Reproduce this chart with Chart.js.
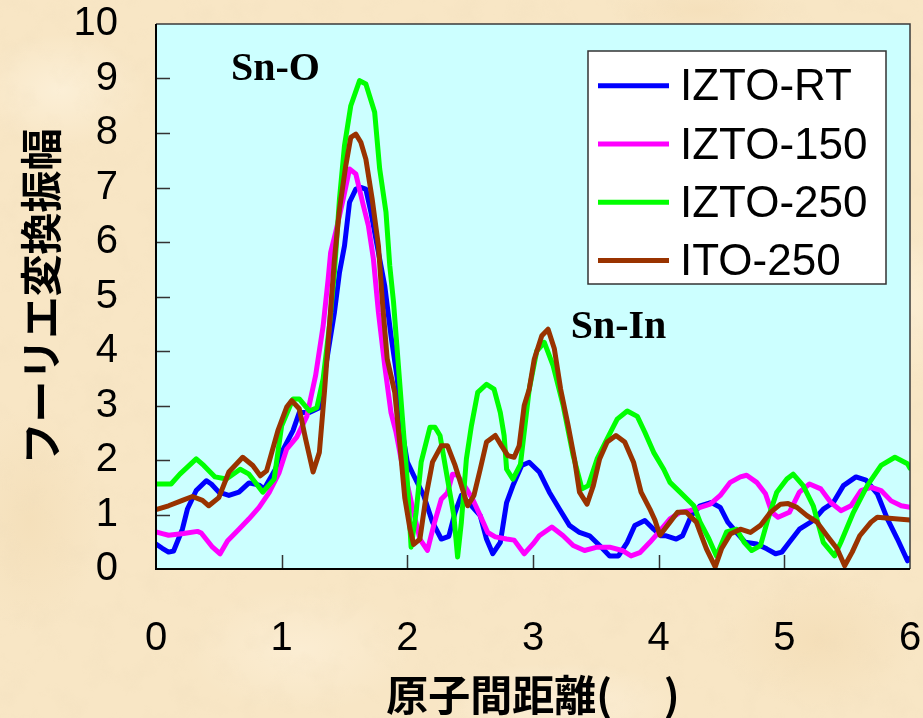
<!DOCTYPE html>
<html>
<head>
<meta charset="utf-8">
<script src="https://cdn.jsdelivr.net/npm/chart.js@4.4.1/dist/chart.umd.min.js"></script>
<style>
  html, body { margin: 0; padding: 0; }
  body {
    width: 923px; height: 718px; overflow: hidden;
    background-color: #f8e6c5;
    background-image:
      url("data:image/svg+xml;utf8,<svg xmlns='http://www.w3.org/2000/svg' width='923' height='718'><filter id='n'><feTurbulence type='fractalNoise' baseFrequency='0.035' numOctaves='4' seed='7'/><feColorMatrix type='matrix' values='0 0 0 0 0.86  0 0 0 0 0.72  0 0 0 0 0.50  1.6 0 0 0 -0.75'/></filter><rect width='100%25' height='100%25' filter='url(%23n)' opacity='0.35'/></svg>"),
      radial-gradient(ellipse 120px 80px at 60px 90px, rgba(255,246,228,0.55), rgba(255,246,228,0) 70%),
      radial-gradient(ellipse 160px 90px at 300px 650px, rgba(255,244,224,0.5), rgba(255,244,224,0) 70%),
      radial-gradient(ellipse 140px 100px at 820px 640px, rgba(240,214,170,0.45), rgba(240,214,170,0) 70%),
      radial-gradient(ellipse 100px 160px at 30px 520px, rgba(240,216,174,0.45), rgba(240,216,174,0) 70%),
      radial-gradient(ellipse 180px 60px at 560px 705px, rgba(255,247,232,0.5), rgba(255,247,232,0) 70%),
      radial-gradient(ellipse 130px 40px at 700px 10px, rgba(242,218,178,0.5), rgba(242,218,178,0) 70%),
      radial-gradient(ellipse 90px 120px at 905px 300px, rgba(255,245,226,0.5), rgba(255,245,226,0) 70%);
  }
  canvas { display: block; }
</style>
</head>
<body>
<canvas id="chart" width="923" height="718"></canvas>
<script>
// Fourier transform amplitude vs. interatomic distance
const seriesNames = ['IZTO-RT', 'IZTO-150', 'IZTO-250', 'ITO-250'];
const seriesColors = ['#0000ff', '#ff00ff', '#00ff00', '#993300'];

const xTicks = [0, 1, 2, 3, 4, 5, 6];
const yTicks = [0, 1, 2, 3, 4, 5, 6, 7, 8, 9, 10];

const rtX = [0, 0.05, 0.10, 0.14, 0.21, 0.25, 0.32, 0.40, 0.44, 0.50, 0.58, 0.66, 0.74, 0.82, 0.86, 0.95, 1.00, 1.09, 1.14, 1.22,
  1.30, 1.36, 1.42, 1.46, 1.50, 1.54, 1.59, 1.63, 1.67, 1.71, 1.76, 1.82, 1.87, 1.92, 1.96, 2.00, 2.05, 2.13, 2.20, 2.27,
  2.33, 2.38, 2.43, 2.51, 2.58, 2.63, 2.68, 2.74, 2.79, 2.84, 2.91, 2.97, 3.05, 3.13, 3.21, 3.29, 3.37, 3.45, 3.53, 3.61,
  3.68, 3.75, 3.81, 3.89, 3.96, 4.02, 4.06, 4.14, 4.19, 4.26, 4.33, 4.42, 4.49, 4.55, 4.62, 4.69, 4.78, 4.86, 4.93, 4.98,
  5.04, 5.12, 5.23, 5.31, 5.39, 5.47, 5.57, 5.65, 5.74, 5.82, 5.90, 5.98, 6.00];
const rtY = [0.46, 0.38, 0.31, 0.33, 0.73, 1.10, 1.44, 1.62, 1.56, 1.41, 1.35, 1.41, 1.58, 1.54, 1.47, 1.83, 2.14, 2.54, 2.87, 2.87,
  2.96, 3.85, 4.71, 5.44, 5.93, 6.73, 6.97, 7.00, 6.97, 6.55, 5.93, 5.20, 4.28, 3.49, 2.51, 1.96, 1.72, 1.35, 0.86, 0.55,
  0.60, 1.04, 1.35, 1.16, 0.98, 0.55, 0.28, 0.49, 1.22, 1.53, 1.90, 1.96, 1.78, 1.41, 1.10, 0.80, 0.67, 0.61, 0.43, 0.24,
  0.24, 0.49, 0.80, 0.89, 0.73, 0.61, 0.61, 0.55, 0.61, 0.98, 1.16, 1.22, 1.13, 0.86, 0.67, 0.49, 0.46, 0.37, 0.28, 0.31,
  0.49, 0.73, 0.89, 1.10, 1.22, 1.53, 1.69, 1.63, 1.38, 0.92, 0.55, 0.15, 0.20];

const t150X = [0, 0.05, 0.10, 0.22, 0.33, 0.36, 0.45, 0.51, 0.57, 0.66, 0.74, 0.82, 0.90, 0.98, 1.04, 1.12, 1.20, 1.27, 1.33, 1.37,
  1.39, 1.43, 1.49, 1.54, 1.59, 1.65, 1.69, 1.73, 1.77, 1.82, 1.87, 1.91, 1.96, 2.00, 2.05, 2.10, 2.16, 2.21, 2.27, 2.32,
  2.36, 2.40, 2.47, 2.52, 2.58, 2.64, 2.70, 2.79, 2.85, 2.93, 3.00, 3.05, 3.15, 3.24, 3.32, 3.41, 3.51, 3.61, 3.71, 3.78,
  3.85, 3.93, 4.01, 4.09, 4.17, 4.25, 4.33, 4.41, 4.49, 4.57, 4.65, 4.70, 4.78, 4.85, 4.90, 4.95, 5.04, 5.12, 5.20, 5.29,
  5.37, 5.45, 5.53, 5.61, 5.69, 5.77, 5.85, 5.93, 6.00];
const t150Y = [0.68, 0.65, 0.62, 0.65, 0.69, 0.66, 0.40, 0.28, 0.52, 0.73, 0.92, 1.13, 1.40, 1.77, 2.20, 2.42, 2.80, 3.55, 4.46, 5.32,
  5.81, 6.18, 6.79, 7.34, 7.25, 6.67, 6.30, 5.69, 4.71, 3.73, 2.87, 2.51, 1.90, 1.55, 1.04, 0.55, 0.34, 0.80, 1.28, 1.40,
  1.74, 1.72, 1.47, 1.28, 0.98, 0.67, 0.59, 0.55, 0.53, 0.28, 0.46, 0.61, 0.77, 0.61, 0.43, 0.34, 0.40, 0.40, 0.34, 0.24,
  0.30, 0.49, 0.70, 0.92, 1.04, 1.07, 1.13, 1.19, 1.35, 1.59, 1.69, 1.72, 1.59, 1.38, 1.04, 0.95, 1.04, 1.41, 1.56, 1.47,
  1.22, 1.07, 1.16, 1.44, 1.50, 1.44, 1.25, 1.16, 1.13];

const t250X = [0, 0.12, 0.19, 0.32, 0.38, 0.47, 0.56, 0.67, 0.74, 0.85, 0.94, 1.00, 1.09, 1.14, 1.22, 1.28, 1.33, 1.38, 1.42, 1.46,
  1.50, 1.55, 1.62, 1.67, 1.74, 1.78, 1.83, 1.86, 1.89, 1.92, 1.96, 2.00, 2.03, 2.07, 2.11, 2.18, 2.22, 2.26, 2.31, 2.37,
  2.40, 2.43, 2.47, 2.51, 2.56, 2.63, 2.69, 2.74, 2.77, 2.79, 2.84, 2.90, 2.97, 3.03, 3.09, 3.16, 3.24, 3.32, 3.39, 3.44,
  3.51, 3.59, 3.67, 3.75, 3.83, 3.89, 3.96, 4.04, 4.09, 4.17, 4.28, 4.33, 4.40, 4.46, 4.54, 4.62, 4.68, 4.74, 4.81, 4.87,
  4.94, 5.02, 5.07, 5.15, 5.23, 5.31, 5.40, 5.45, 5.55, 5.66, 5.77, 5.88, 5.98, 6.00];
const t250Y = [1.56, 1.56, 1.74, 2.02, 1.90, 1.69, 1.65, 1.83, 1.74, 1.41, 1.65, 2.63, 3.12, 3.12, 2.90, 2.96, 3.49, 4.46, 5.45, 6.79,
  7.77, 8.50, 8.96, 8.90, 8.38, 7.34, 6.55, 5.57, 4.90, 4.00, 2.80, 1.60, 0.40, 1.04, 1.96, 2.60, 2.60, 2.45, 1.78, 0.98,
  0.22, 0.86, 2.02, 2.63, 3.24, 3.39, 3.30, 2.87, 2.45, 1.83, 1.65, 1.92, 3.30, 4.00, 4.16, 3.73, 3.00, 2.08, 1.47, 1.53,
  2.02, 2.39, 2.75, 2.90, 2.80, 2.51, 2.14, 1.83, 1.59, 1.41, 1.16, 0.86, 0.55, 0.24, 0.68, 0.73, 0.49, 0.34, 0.43, 0.92,
  1.41, 1.65, 1.74, 1.53, 1.16, 0.49, 0.24, 0.49, 1.04, 1.53, 1.90, 2.05, 1.93, 1.85];

const ito250X = [0, 0.10, 0.21, 0.29, 0.37, 0.42, 0.50, 0.58, 0.69, 0.77, 0.83, 0.88, 0.97, 1.04, 1.08, 1.14, 1.19, 1.25, 1.30, 1.34,
  1.38, 1.42, 1.46, 1.51, 1.55, 1.59, 1.63, 1.67, 1.72, 1.77, 1.80, 1.84, 1.90, 1.94, 1.98, 2.02, 2.05, 2.10, 2.15, 2.20,
  2.27, 2.32, 2.38, 2.43, 2.48, 2.53, 2.58, 2.63, 2.70, 2.75, 2.80, 2.85, 2.89, 2.93, 2.97, 3.01, 3.07, 3.12, 3.17, 3.22,
  3.28, 3.33, 3.37, 3.43, 3.48, 3.53, 3.59, 3.66, 3.73, 3.80, 3.86, 3.93, 3.97, 4.01, 4.09, 4.15, 4.22, 4.30, 4.33, 4.38,
  4.45, 4.50, 4.57, 4.65, 4.73, 4.81, 4.89, 4.97, 5.03, 5.10, 5.18, 5.26, 5.34, 5.42, 5.48, 5.54, 5.60, 5.69, 5.74, 5.88,
  6.00];
const ito250Y = [1.09, 1.16, 1.26, 1.33, 1.26, 1.16, 1.31, 1.78, 2.05, 1.90, 1.71, 1.80, 2.54, 2.97, 3.09, 2.94, 2.39, 1.78, 2.14, 3.24,
  4.46, 5.69, 6.60, 7.40, 7.92, 7.98, 7.83, 7.52, 6.79, 5.93, 4.95, 3.85, 3.24, 2.30, 1.30, 0.75, 0.45, 0.55, 1.35, 1.96,
  2.26, 2.26, 1.90, 1.53, 1.16, 1.35, 1.83, 2.33, 2.45, 2.26, 2.08, 2.05, 2.26, 3.00, 3.30, 3.85, 4.28, 4.40, 4.04, 3.30,
  2.63, 2.02, 1.41, 1.19, 1.53, 2.02, 2.33, 2.45, 2.33, 1.96, 1.41, 1.10, 0.90, 0.62, 0.86, 1.04, 1.04, 0.86, 0.67, 0.37,
  0.04, 0.37, 0.64, 0.73, 0.67, 0.80, 1.04, 1.19, 1.20, 1.13, 0.98, 0.86, 0.61, 0.37, 0.06, 0.31, 0.61, 0.86, 0.95, 0.92,
  0.90];

const peakLabels = [
  { text: 'Sn-O', x: 0.95, y: 9.16 },
  { text: 'Sn-In', x: 3.68, y: 4.42 }
];

const xTitle = '原子間距離(\u3000 )';
const yTitle = 'フーリエ変換振幅';

const seriesX = [rtX, t150X, t250X, ito250X];
const seriesY = [rtY, t150Y, t250Y, ito250Y];

const datasets = seriesNames.map((name, i) => ({
  label: name,
  data: seriesX[i].map((x, k) => ({ x: x, y: seriesY[i][k] })),
  borderColor: seriesColors[i],
  backgroundColor: seriesColors[i],
  borderWidth: 5,
  pointRadius: 0,
  tension: 0,
  borderJoinStyle: 'round',
  borderCapStyle: 'round',
  order: seriesNames.length - i
}));

function noOverhang(scale) {
  scale.paddingLeft = 0;
  scale.paddingRight = 0;
  scale.paddingTop = 0;
  scale.paddingBottom = 0;
}

// cyan plot face, frame and inward tick marks
const plotFrame = {
  id: 'plotFrame',
  beforeDatasetsDraw(chart) {
    const { ctx, chartArea: a } = chart;
    ctx.save();
    ctx.fillStyle = '#ccffff';
    ctx.fillRect(a.left, a.top, a.right - a.left, a.bottom - a.top);
    ctx.restore();
  },
  afterDatasetsDraw(chart) {
    const { ctx, chartArea: a, scales } = chart;
    ctx.save();
    ctx.strokeStyle = '#333333';
    ctx.lineWidth = 1.5;
    ctx.beginPath();
    yTicks.forEach(v => {
      if (v === 0 || v === 10) return;
      const py = Math.round(scales.y.getPixelForValue(v)) + 0.5;
      ctx.moveTo(a.left, py); ctx.lineTo(a.left + 14, py);
    });
    xTicks.forEach(v => {
      if (v === 0 || v === 6) return;
      const px = Math.round(scales.x.getPixelForValue(v)) + 0.5;
      ctx.moveTo(px, a.bottom); ctx.lineTo(px, a.bottom - 14);
    });
    ctx.stroke();
    ctx.strokeStyle = '#3a3a3a';
    ctx.lineWidth = 1.5;
    ctx.beginPath();
    ctx.moveTo(a.left, a.top); ctx.lineTo(a.right, a.top); ctx.lineTo(a.right, a.bottom);
    ctx.stroke();
    ctx.strokeStyle = '#000000';
    ctx.lineWidth = 2;
    ctx.beginPath();
    ctx.moveTo(a.left, a.top); ctx.lineTo(a.left, a.bottom); ctx.lineTo(a.right, a.bottom);
    ctx.stroke();
    ctx.restore();
  }
};

// peak annotations
const peakText = {
  id: 'peakText',
  afterDatasetsDraw(chart) {
    const { ctx, scales } = chart;
    ctx.save();
    ctx.fillStyle = '#000000';
    ctx.font = 'bold 40px "Liberation Serif", "Times New Roman", serif';
    ctx.textAlign = 'center';
    ctx.textBaseline = 'middle';
    peakLabels.forEach(p => {
      ctx.fillText(p.text, scales.x.getPixelForValue(p.x), scales.y.getPixelForValue(p.y));
    });
    ctx.restore();
  }
};

// boxed legend inside the plot
const boxLegend = {
  id: 'boxLegend',
  afterDraw(chart) {
    const { ctx } = chart;
    const box = { left: 588, top: 51, right: 886, bottom: 284 };
    ctx.save();
    ctx.fillStyle = '#ffffff';
    ctx.fillRect(box.left, box.top, box.right - box.left, box.bottom - box.top);
    ctx.strokeStyle = '#333333';
    ctx.lineWidth = 1.5;
    ctx.strokeRect(box.left, box.top, box.right - box.left, box.bottom - box.top);
    ctx.font = '44px "Liberation Sans", Arial, sans-serif';
    ctx.textAlign = 'left';
    ctx.textBaseline = 'alphabetic';
    chart.data.datasets.forEach((ds, i) => {
      const cy = 85.7 + i * 58.3;
      ctx.strokeStyle = ds.borderColor;
      ctx.lineWidth = 5;
      ctx.lineCap = 'butt';
      ctx.beginPath();
      ctx.moveTo(598, cy); ctx.lineTo(669, cy);
      ctx.stroke();
      ctx.fillStyle = '#000000';
      ctx.fillText(ds.label, 680, cy + 14.5);
    });
    ctx.restore();
  }
};

new Chart(document.getElementById('chart'), {
  type: 'line',
  data: { datasets: datasets },
  plugins: [plotFrame, peakText, boxLegend],
  options: {
    responsive: false,
    animation: false,
    events: [],
    layout: { padding: { left: 0, right: 13, top: 24, bottom: 0 } },
    plugins: { legend: { display: false }, tooltip: { enabled: false } },
    scales: {
      x: {
        type: 'linear',
        min: 0, max: 6,
        afterFit(scale) { scale.height = 149; noOverhang(scale); },
        afterBuildTicks(scale) { scale.ticks = xTicks.map(v => ({ value: v })); },
        grid: { display: false, drawTicks: false },
        border: { display: false },
        ticks: {
          autoSkip: false,
          padding: 46,
          color: '#000000',
          maxRotation: 0,
          font: { family: '"Liberation Sans Narrow", "Liberation Sans", Arial, sans-serif', size: 40 }
        },
        title: {
          display: true,
          text: xTitle,
          color: '#000000',
          padding: { top: 0, bottom: 2 },
          font: { family: '"Noto Sans CJK JP", sans-serif', size: 42, weight: 'bold', lineHeight: 1.0 }
        }
      },
      y: {
        type: 'linear',
        min: 0, max: 10,
        afterFit(scale) { scale.width = 156; noOverhang(scale); },
        afterBuildTicks(scale) { scale.ticks = yTicks.map(v => ({ value: v })); },
        grid: { display: false, drawTicks: false },
        border: { display: false },
        ticks: {
          autoSkip: false,
          padding: 38,
          color: '#000000',
          font: { family: '"Liberation Sans", Arial, sans-serif', size: 40 }
        },
        title: {
          display: true,
          text: yTitle,
          color: '#000000',
          padding: { top: 20, bottom: 0 },
          font: { family: '"Noto Sans CJK JP", sans-serif', size: 42, weight: 'bold', lineHeight: 1.0 }
        }
      }
    }
  }
});
</script>
</body>
</html>
